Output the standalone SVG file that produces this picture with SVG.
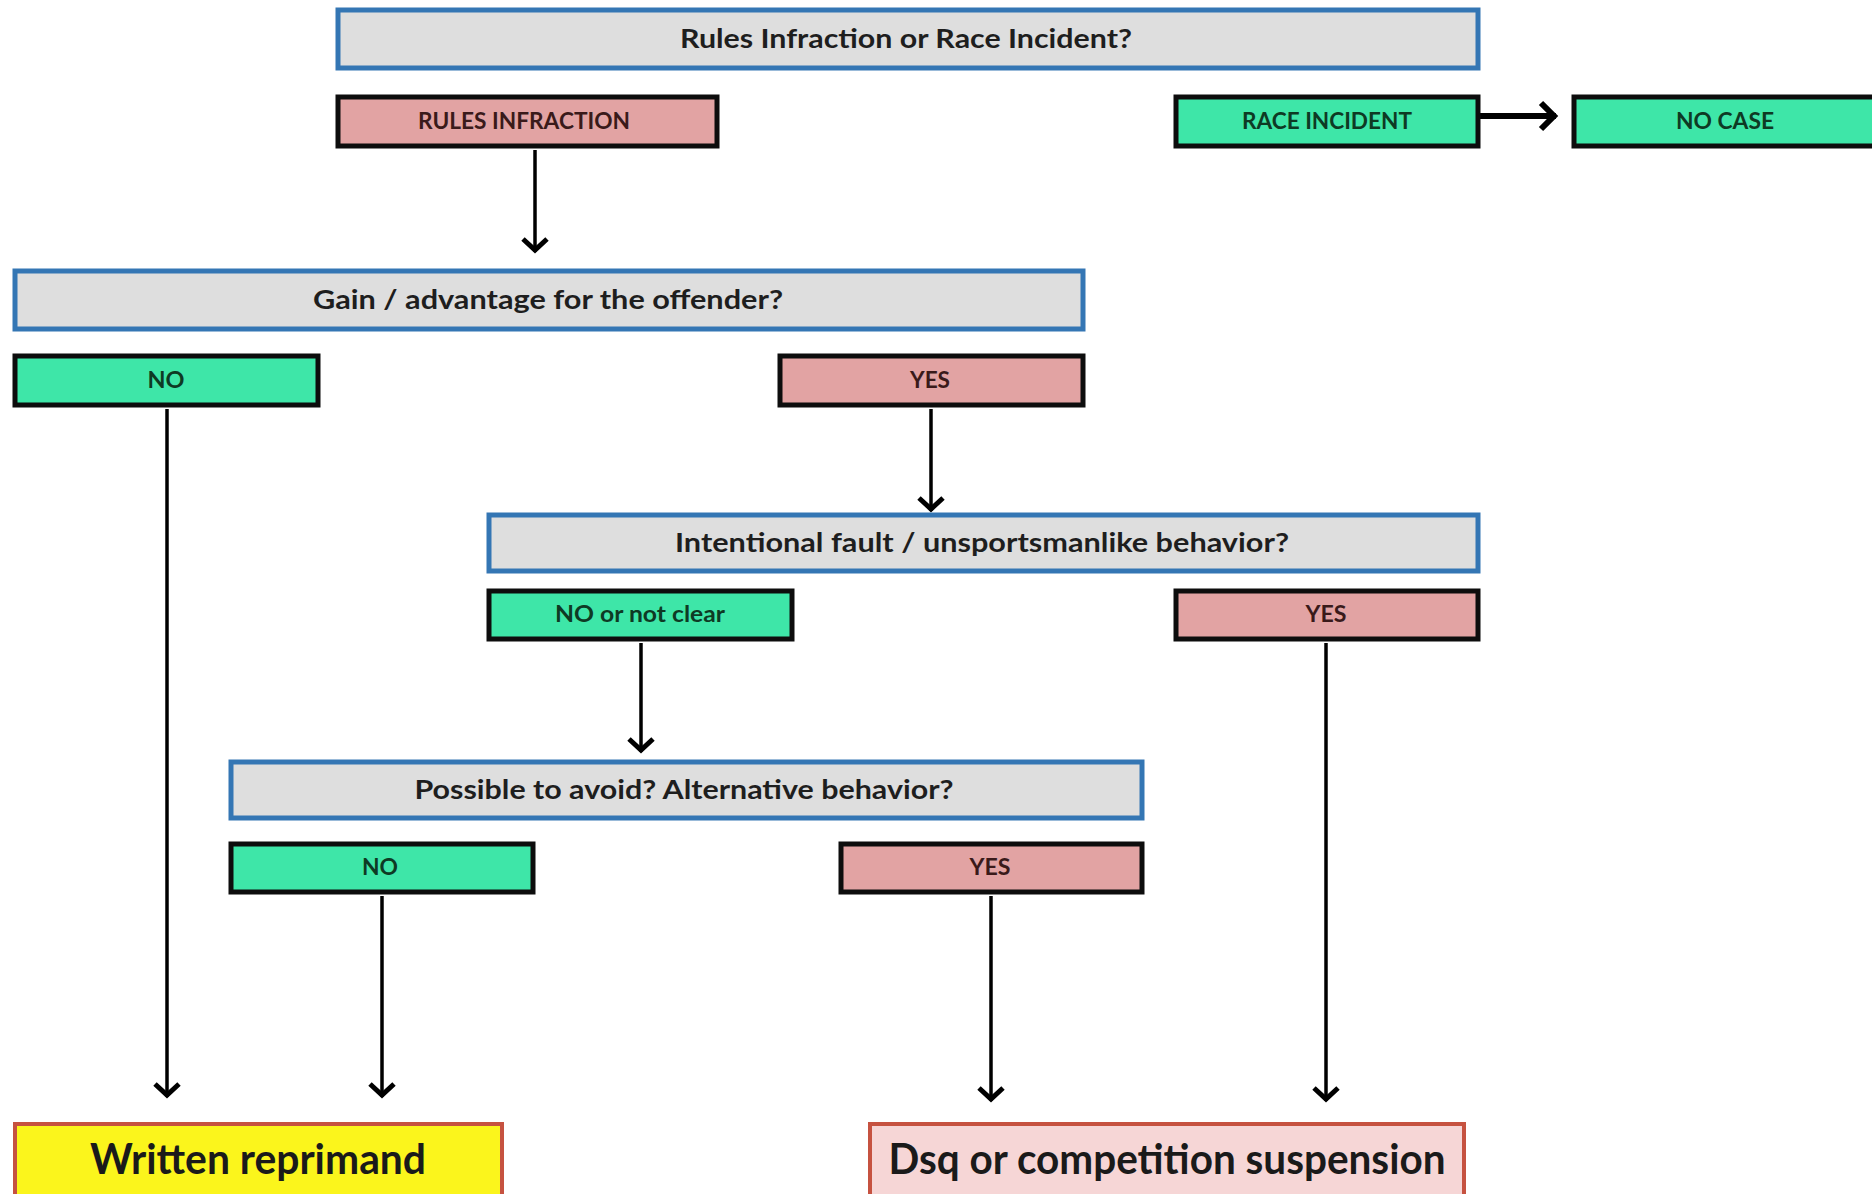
<svg xmlns="http://www.w3.org/2000/svg" width="1872" height="1194" viewBox="0 0 1872 1194">
  <style>
    .q rect { fill: #dedede; stroke: #3476b4; stroke-width: 5; }
    .g rect { fill: #3ee6a8; stroke: #0d0d0d; stroke-width: 5; }
    .p rect { fill: #e2a3a3; stroke: #0d0d0d; stroke-width: 5; }
    .wr rect { fill: #fbf51c; stroke: #c65240; stroke-width: 4; }
    .ds rect { fill: #f6d6d6; stroke: #c65240; stroke-width: 4; }
    text { font-family: Lato, "DejaVu Sans Condensed", "Liberation Sans", sans-serif; font-weight: bold; text-anchor: middle; }
    .q text { font-size: 26px; fill: #1e1e1e; }
    .g text { font-size: 22px; fill: #0e3a24; }
    .p text { font-size: 22px; fill: #3a1a1a; }
    .wr text, .ds text { font-size: 42px; fill: #1a1a1a; }
    .conn line { stroke: #000; stroke-width: 3.5; marker-end: url(#ah); }
  </style>
  <defs>
    <marker id="ah" markerUnits="userSpaceOnUse" viewBox="-22 -18 28 36" markerWidth="28" markerHeight="36" refX="0" refY="0" orient="auto">
      <path d="M-13,-12 L-2,0 L-13,12" fill="none" stroke="#000" stroke-width="5"/>
    </marker>
    <marker id="ahb" markerUnits="userSpaceOnUse" viewBox="-24 -20 30 40" markerWidth="30" markerHeight="40" refX="0" refY="0" orient="auto">
      <path d="M-15,-13 L-2,0 L-15,13" fill="none" stroke="#000" stroke-width="6"/>
    </marker>
  </defs>
  <rect width="1872" height="1194" fill="#ffffff"/>

  <g class="conn">
    <line x1="535" y1="150" x2="535" y2="252"/>
    <line x1="1480" y1="116" x2="1556" y2="116" style="stroke-width:6;marker-end:url(#ahb)"/>
    <line x1="167" y1="409" x2="167" y2="1097"/>
    <line x1="931" y1="409" x2="931" y2="511"/>
    <line x1="641" y1="643" x2="641" y2="752"/>
    <line x1="1326" y1="643" x2="1326" y2="1101"/>
    <line x1="382" y1="896" x2="382" y2="1097"/>
    <line x1="991" y1="896" x2="991" y2="1101"/>
  </g>

  <g id="q-rules-or-race" class="q">
    <rect x="338" y="10" width="1140" height="58"/>
    <text x="906" y="48" textLength="452" lengthAdjust="spacingAndGlyphs">Rules Infraction or Race Incident?</text>
  </g>
  <g id="rules-infraction" class="p">
    <rect x="338" y="97" width="379" height="49"/>
    <text x="524" y="129" textLength="212" lengthAdjust="spacingAndGlyphs">RULES INFRACTION</text>
  </g>
  <g id="race-incident" class="g">
    <rect x="1176" y="97" width="302" height="49"/>
    <text x="1327" y="129" textLength="170" lengthAdjust="spacingAndGlyphs">RACE INCIDENT</text>
  </g>
  <g id="no-case" class="g">
    <rect x="1574" y="97" width="310" height="49"/>
    <text x="1725" y="129" textLength="98" lengthAdjust="spacingAndGlyphs">NO CASE</text>
  </g>

  <g id="q-gain" class="q">
    <rect x="15" y="271" width="1068" height="58"/>
    <text x="548" y="309" textLength="470" lengthAdjust="spacingAndGlyphs">Gain / advantage for the offender?</text>
  </g>
  <g id="gain-no" class="g">
    <rect x="15" y="356" width="303" height="49"/>
    <text x="166" y="388" textLength="37" lengthAdjust="spacingAndGlyphs">NO</text>
  </g>
  <g id="gain-yes" class="p">
    <rect x="780" y="356" width="303" height="49"/>
    <text x="930" y="388" textLength="40" lengthAdjust="spacingAndGlyphs">YES</text>
  </g>

  <g id="q-intentional" class="q">
    <rect x="489" y="515" width="989" height="56"/>
    <text x="982" y="552" textLength="614" lengthAdjust="spacingAndGlyphs">Intentional fault / unsportsmanlike behavior?</text>
  </g>
  <g id="intentional-no" class="g">
    <rect x="489" y="591" width="303" height="48"/>
    <text x="640" y="622" textLength="170" lengthAdjust="spacingAndGlyphs">NO or not clear</text>
  </g>
  <g id="intentional-yes" class="p">
    <rect x="1176" y="591" width="302" height="48"/>
    <text x="1326" y="622" textLength="41" lengthAdjust="spacingAndGlyphs">YES</text>
  </g>

  <g id="q-avoid" class="q">
    <rect x="231" y="762" width="911" height="56"/>
    <text x="684" y="799" textLength="539" lengthAdjust="spacingAndGlyphs">Possible to avoid? Alternative behavior?</text>
  </g>
  <g id="avoid-no" class="g">
    <rect x="231" y="844" width="302" height="48"/>
    <text x="380" y="875" textLength="36" lengthAdjust="spacingAndGlyphs">NO</text>
  </g>
  <g id="avoid-yes" class="p">
    <rect x="841" y="844" width="301" height="48"/>
    <text x="990" y="875" textLength="41" lengthAdjust="spacingAndGlyphs">YES</text>
  </g>

  <g id="written-reprimand" class="wr">
    <rect x="15" y="1124" width="487" height="80"/>
    <text x="258" y="1174" textLength="336" lengthAdjust="spacingAndGlyphs">Written reprimand</text>
  </g>
  <g id="dsq" class="ds">
    <rect x="870" y="1124" width="594" height="80"/>
    <text x="1167" y="1174" textLength="557" lengthAdjust="spacingAndGlyphs">Dsq or competition suspension</text>
  </g>
</svg>
